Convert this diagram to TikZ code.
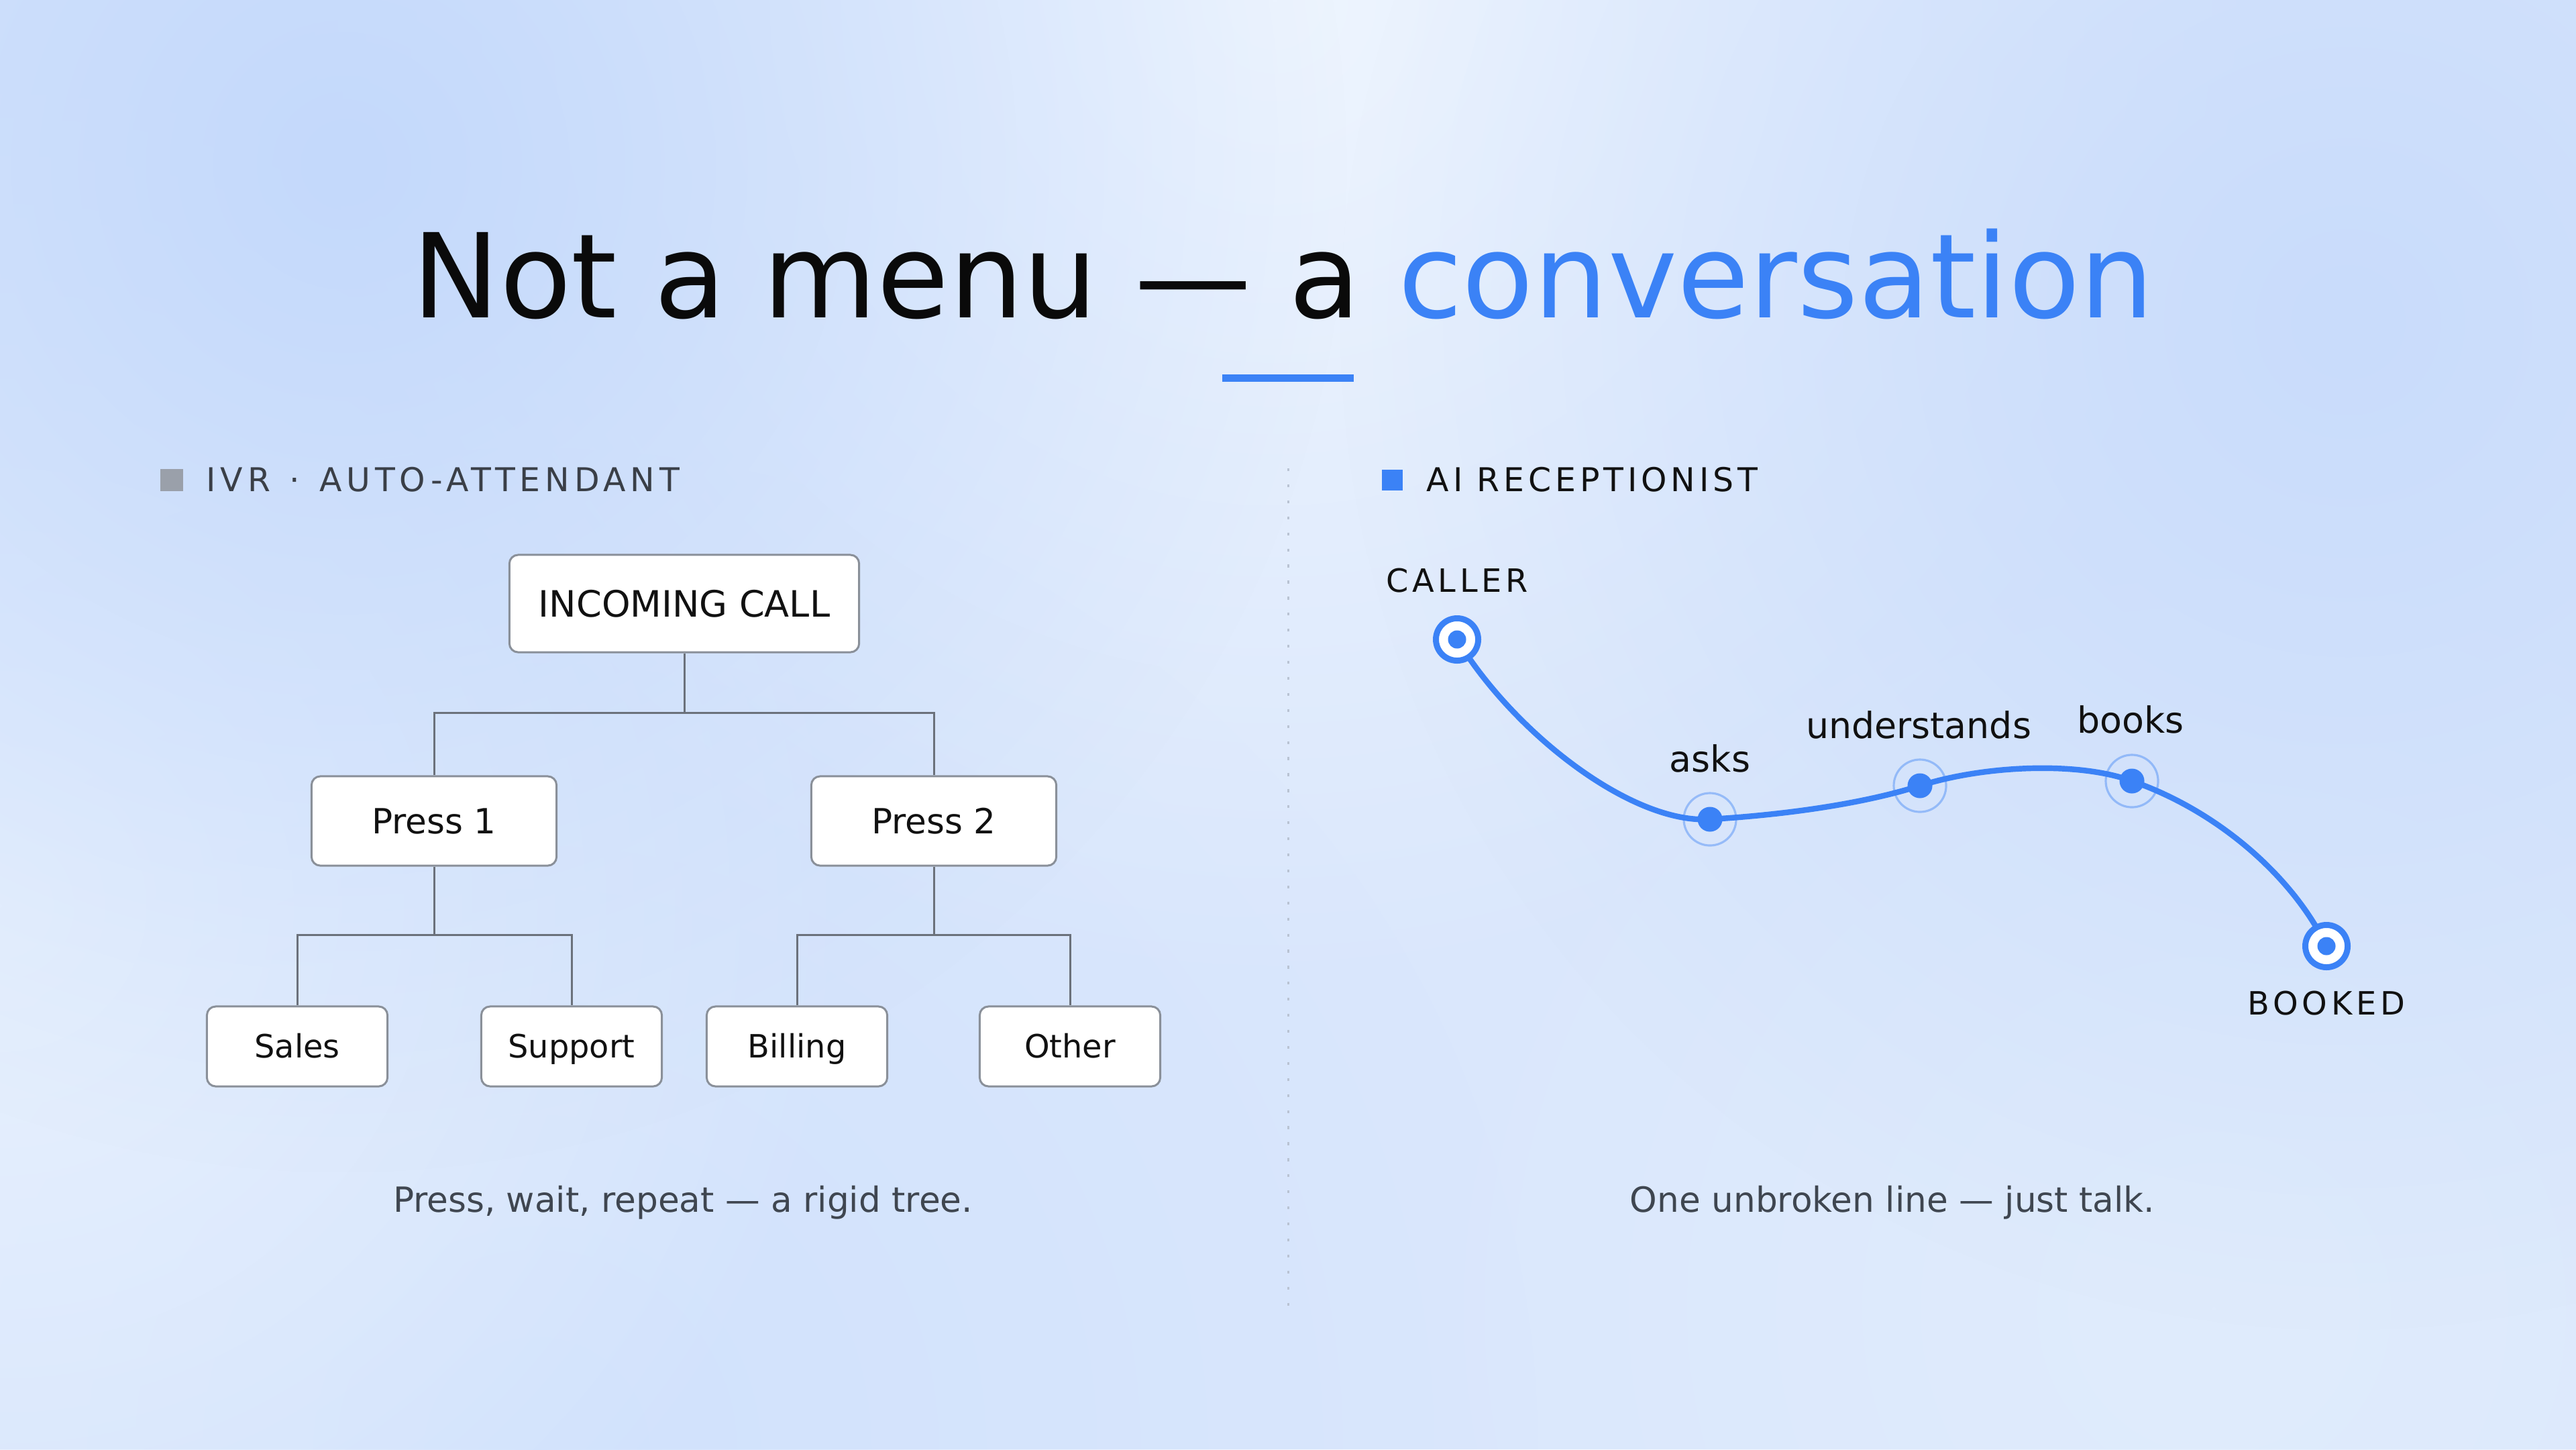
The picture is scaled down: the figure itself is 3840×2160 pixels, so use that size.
\documentclass[tikz,border=0pt]{standalone}
\usepackage{fontspec}
\setmainfont{DejaVu Sans}
\newfontfamily\spacedfont[LetterSpace=12]{DejaVu Sans}
\newfontfamily\widefont[LetterSpace=14]{DejaVu Sans}
\usetikzlibrary{fadings,calc}
\definecolor{accent}{HTML}{3B82F6}
\definecolor{bgbase}{HTML}{DAE7FC}
\definecolor{blobA}{HTML}{C4D9FB}
\definecolor{blobB}{HTML}{C9DCFB}
\definecolor{blobC}{HTML}{EEF5FF}
\definecolor{blobD}{HTML}{E8F1FE}
\definecolor{blobE}{HTML}{D1E2FC}
\definecolor{blobF}{HTML}{E0ECFD}
\definecolor{titleblack}{HTML}{0A0A0A}
\definecolor{hdrgray}{HTML}{3A3F47}
\definecolor{sqgray}{HTML}{9AA0AA}
\definecolor{boxgray}{HTML}{8A9099}
\definecolor{conngray}{HTML}{6B717B}
\definecolor{capgray}{HTML}{3F4650}
\definecolor{inkdark}{HTML}{111111}
\definecolor{divgray}{HTML}{B9C3D3}
\tikzfading[name=softblob, inner color=transparent!0, outer color=transparent!100]
\pgfdeclarelayer{bgl}
\pgfdeclarelayer{lines}
\pgfsetlayers{bgl,lines,main}
\begin{document}
\begin{tikzpicture}[x=0.01cm,y=-0.01cm,
  txt/.style={inner sep=0pt},
  sqmark/.style={inner sep=0pt, minimum size=0.33cm},
  box/.style={draw=boxgray, fill=white, line width=0.85pt, rounded corners=3.7pt, inner sep=0pt, text=inkdark},
  boxtop/.style={box, minimum width=5.21cm, minimum height=1.45cm, font=\fontsize{15.4}{18}\selectfont, text height=11.2pt, text depth=0pt},
  boxmid/.style={box, minimum width=3.65cm, minimum height=1.33cm, font=\fontsize{14.7}{17}\selectfont, text height=10.7pt, text depth=0pt},
  boxleaf/.style={box, minimum width=2.69cm, minimum height=1.19cm, font=\fontsize{13.6}{16}\selectfont, text height=9.9pt, text depth=0pt},
  conn/.style={draw=conngray, line width=0.85pt},
  flow/.style={draw=accent, line width=2.4pt, line cap=round},
  endpt/.style={circle, draw=accent, line width=2.55pt, fill=white, minimum size=0.63cm, inner sep=0pt},
  enddot/.style={circle, fill=accent, minimum size=0.27cm, inner sep=0pt},
  halo/.style={circle, draw=accent, draw opacity=0.42, line width=0.9pt, minimum size=0.78cm, inner sep=0pt},
  middot/.style={circle, fill=accent, minimum size=0.37cm, inner sep=0pt},
  lbl/.style={txt, anchor=base, text=inkdark, font=\fontsize{15.3}{18}\selectfont},
  caplbl/.style={txt, anchor=base, text=inkdark, font=\spacedfont\fontsize{13.6}{16}\selectfont},
  caption/.style={txt, anchor=base, text=capgray, font=\fontsize{14.7}{17}\selectfont},
  hdr/.style={txt, anchor=base west, font=\spacedfont\fontsize{13.9}{16}\selectfont}
]
\useasboundingbox (0,0) rectangle (3840,2160);
\begin{pgfonlayer}{bgl}
  \fill[bgbase] (0,0) rectangle (3840,2160);
  \fill[blobE, path fading=softblob] (800,2160) circle (1500);
  \fill[blobF, path fading=softblob] (3300,1950) circle (1300);
  \fill[blobD, path fading=softblob] (0,1350) circle (1300);
  \fill[blobC, path fading=softblob] (1900,0) circle (1500);
  \fill[blobA, path fading=softblob] (515,245) circle (1500);
  \fill[blobB, path fading=softblob] (3500,480) circle (1500);
\end{pgfonlayer}

% title
\node[txt, anchor=base, text=titleblack, font=\fontsize{49.6}{58}\selectfont] (title) at (1913,473)
  {Not a menu — a \textcolor{accent}{conversation}};
\node[inner sep=0pt, fill=accent, minimum width=1.96cm, minimum height=0.11cm] (titlebar) at (1920,563.5) {};

% divider
\coordinate (divtop) at (1920,698);
\coordinate (divbot) at (1920,1946);
\draw[divgray, line width=0.85pt, dash pattern=on 1.2pt off 5.6pt] (divtop) -- (divbot);

% left header
\node[sqmark, fill=sqgray] (sqL) at (256,715) {};
\node[hdr, text=hdrgray, font=\widefont\fontsize{13.9}{16}\selectfont] (hdrL) at (307,732) {IVR\hspace{1.8pt} · \hspace{1.8pt}AUTO-ATTENDANT};

% tree
\node[boxtop] (inc) at (1020,899.5) {INCOMING CALL};
\node[boxmid] (p1) at (647,1223.5) {Press 1};
\node[boxmid] (p2) at (1392,1223.5) {Press 2};
\node[boxleaf] (sales) at (443,1559.5) {Sales};
\node[boxleaf] (support) at (852,1559.5) {Support};
\node[boxleaf] (billing) at (1188,1559.5) {Billing};
\node[boxleaf] (other) at (1595,1559.5) {Other};
\begin{pgfonlayer}{lines}
  \draw[conn] (inc.south) -- ++(0,89) -| (p1.north);
  \draw[conn] (inc.south) -- ++(0,89) -| (p2.north);
  \draw[conn] (p1.south) -- ++(0,102) -| (sales.north);
  \draw[conn] (p1.south) -- ++(0,102) -| (support.north);
  \draw[conn] (p2.south) -- ++(0,102) -| (billing.north);
  \draw[conn] (p2.south) -- ++(0,102) -| (other.north);
\end{pgfonlayer}
\node[caption] (capL) at (1018,1806) {Press, wait, repeat — a rigid tree.};

% right header
\node[sqmark, fill=accent, minimum size=0.31cm] (sqR) at (2075,715) {};
\node[hdr, text=inkdark] (hdrR) at (2126,732) {AI RECEPTIONIST};

% conversation line
\node[endpt] (caller) at (2172,953) {};
\node[enddot] (callerdot) at (caller) {};
\node[halo] (askshalo) at (2549,1221) {};
\node[middot] (asks) at (2549,1221) {};
\node[halo] (undhalo) at (2862,1171) {};
\node[middot] (und) at (2862,1171) {};
\node[halo] (bookshalo) at (3178,1164) {};
\node[middot] (books) at (3178,1164) {};
\node[endpt] (booked) at (3468,1410) {};
\node[enddot] (bookeddot) at (booked) {};
\begin{pgfonlayer}{lines}
  \draw[flow] (caller.center)
    .. controls (2255,1090) and (2430,1228) .. (asks.center)
    .. controls (2650,1215) and (2770,1200) .. (und.center)
    .. controls (2960,1140) and (3100,1135) .. (books.center)
    .. controls (3310,1210) and (3420,1310) .. (booked.center);
\end{pgfonlayer}
\node[caplbl] (callerlbl) at (2172,882) {CALLER};
\node[caplbl] (bookedlbl) at (3468,1512) {BOOKED};
\node[lbl] (askslbl) at (2549,1150) {asks};
\node[lbl] (undlbl) at (2860,1100) {understands};
\node[lbl] (bookslbl) at (3176,1092) {books};
\node[caption] (capR) at (2821,1806) {One unbroken line — just talk.};
\end{tikzpicture}
\end{document}
